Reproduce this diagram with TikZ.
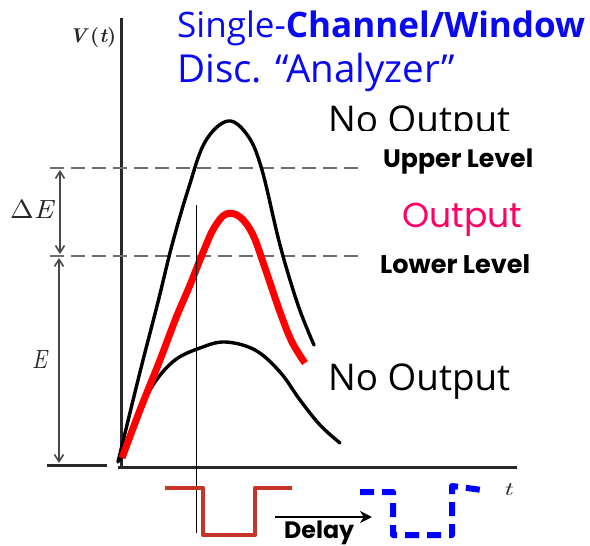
\documentclass[tikz,border=0pt]{standalone}
\usepackage{fontspec}
\usepackage{graphicx}
\usetikzlibrary{arrows.meta}
\newfontfamily\pop{Poppins}
\newfontfamily\comic{Open Sans}
\newfontfamily\lmit{Latin Modern Roman}
\newcommand\fitbox[2]{\resizebox{#1}{!}{#2}}
\definecolor{titleblue}{RGB}{10,10,240}
\definecolor{pulsered}{RGB}{198,52,40}
\definecolor{outpink}{RGB}{255,0,100}
\definecolor{axisgray}{RGB}{40,40,40}
\definecolor{dashgray}{RGB}{110,110,110}
\tikzset{
  lbl/.style={inner sep=0pt, anchor=base west},
  axisline/.style={draw=axisgray, line width=3pt},
  levelline/.style={draw=dashgray, line width=2.4pt, dash pattern=on 14pt off 7pt},
  dimarrow/.style={draw=axisgray!85, line width=1.6pt, {Straight Barb[length=7pt,width=9pt]}-{Straight Barb[length=7pt,width=9pt]}},
  pulsecurve/.style={draw=black, line width=3.4pt, line cap=round},
  redcurve/.style={draw=red, line width=7pt, line cap=butt},
  gatepulse/.style={draw=pulsered, line width=4.5pt, line join=round},
  delayedpulse/.style={draw=blue, line width=6pt, dash pattern=on 14pt off 8pt, line join=round},
}
\begin{document}
\begin{tikzpicture}[x=1pt,y=-1pt]
\useasboundingbox (0,0) rectangle (590,546);
\fill[white] (0,0) rectangle (590,546);

% axes
\coordinate (yb) at (121,467);
\coordinate (yt) at (121,18);
\coordinate (xe) at (517,467);
\draw[axisline] (yt) -- (yb);
\draw[axisline] (118,467) -- (xe);
\draw[axisline] (47,465) -- (107,465);

% level lines
\coordinate (ul0) at (50,168); \coordinate (ul1) at (362,168);
\coordinate (ll0) at (50,256); \coordinate (ll1) at (362,256);
\draw[levelline] (ul0) -- (ul1);
\draw[levelline] (ll0) -- (ll1);

% dimension arrows
\coordinate (de0) at (60,170); \coordinate (de1) at (60,254);
\coordinate (e0) at (59,258); \coordinate (e1) at (59,463);
\draw[dimarrow] (de0) -- (de1);
\draw[dimarrow] (e0) -- (e1);

% curves
\draw[pulsecurve] plot[smooth, tension=0.6] coordinates {(118,462) (140,372) (158,302) (172,245) (188,190) (205,142) (228,121) (248,136) (262,170) (280,245) (298,305) (314,345)};
\draw[pulsecurve] plot[smooth, tension=0.6] coordinates {(120,460) (128,442) (140,410) (155,382) (175,360) (200,348) (225,342) (255,350) (280,372) (300,400) (320,425) (340,443)};
\draw[redcurve] plot[smooth, tension=0.6] coordinates {(122,458) (140,410) (160,360) (176,318) (190,285) (204,250) (214,228) (226,214) (240,217) (253,235) (265,268) (280,312) (292,342) (305,363)};

% trigger line
\coordinate (tr0) at (196,205); \coordinate (tr1) at (196,533);
\draw[line width=1pt] (tr0) -- (tr1);

% gate pulse
\draw[gatepulse] (165,488) -- (203,488) -- (203,535) -- (255,535) -- (255,488) -- (292,488);

% delay arrow
\coordinate (d0) at (275,517); \coordinate (d1) at (372,517);
\draw[line width=2pt, -{Stealth[length=12pt,width=12pt]}] (d0) -- (d1);
\node[lbl] (delay) at (284,538) {\fitbox{70pt}{\pop\bfseries Delay}};

% delayed pulse
\draw[delayedpulse] (360,492) -- (393,492) -- (393,535) -- (452,535) -- (452,486) -- (482,490);

% labels
\node[lbl, text=axisgray] (vt) at (69,42) {\resizebox{47pt}{15pt}{\lmit\bfseries\itshape V\,\upshape(\itshape t\upshape)}};
\node[lbl, text=axisgray] (dE) at (10,218) {\resizebox{43pt}{18pt}{\lmit$\Delta$\itshape E}};
\node[lbl, text=axisgray] (E) at (32,368) {\resizebox{15pt}{18pt}{\lmit\itshape E}};
\node[lbl, text=axisgray] (t) at (503,495) {\resizebox{9pt}{12pt}{\lmit\itshape t}};

\node[lbl, text=titleblue] (title1) at (177,37) {\fitbox{408pt}{\comic Single-\bfseries Channel/Window}};
\node[lbl, text=titleblue] (title2) at (177,82) {\fitbox{278pt}{\comic Disc. \textquotedblleft Analyzer\textquotedblright}};

\begin{scope}
\clip (300,90) rectangle (560,130);
\node[lbl] (noout1) at (328,132) {\fitbox{182pt}{\comic No Output}};
\end{scope}
\node[lbl] (upper) at (383,167) {\fitbox{150pt}{\pop\bfseries Upper Level}};
\node[lbl, text=outpink] (out) at (402,227) {\fitbox{120pt}{\pop Output}};
\node[lbl] (lower) at (380,273) {\fitbox{150pt}{\pop\bfseries Lower Level}};
\node[lbl] (noout2) at (328,390) {\fitbox{182pt}{\comic No Output}};
\end{tikzpicture}
\end{document}
